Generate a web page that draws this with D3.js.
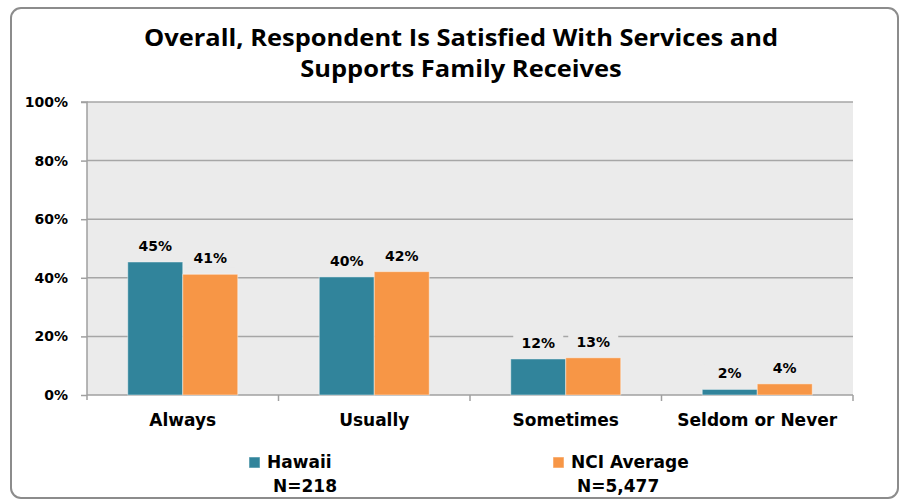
<!DOCTYPE html>
<html><head><meta charset="utf-8">
<script src="https://cdn.jsdelivr.net/npm/d3@7/dist/d3.min.js"></script>
<style>
html,body{margin:0;padding:0;background:#fff;}
svg{display:block;}
text{font-family:"DejaVu Sans",Verdana,sans-serif;font-weight:bold;fill:#000;}
</style></head>
<body>
<svg id="chart" width="900" height="501"></svg>
<script>
const titleLines = ["Overall, Respondent Is Satisfied With Services and", "Supports Family Receives"];
const categories = ["Always", "Usually", "Sometimes", "Seldom or Never"];
const seriesNames = ["Hawaii", "NCI Average"];
const seriesN = ["N=218", "N=5,477"];
const hawaii = [45.4, 40.3, 12.3, 1.9];
const nciAverage = [41.2, 42.1, 12.7, 3.8];
const yTicks = [0, 20, 40, 60, 80, 100];
const colors = ["#31849B", "#F79646"];

const svg = d3.select("#chart");
const W = 900, H = 501;

// outer frame
svg.append("rect").attr("x", 11).attr("y", 8).attr("width", 887).attr("height", 490)
  .attr("rx", 10).attr("fill", "#fff").attr("stroke", "#8c8c8c").attr("stroke-width", 2);

const plot = {left: 87, right: 853, top: 102, bottom: 395};
const x0 = d3.scaleBand().domain(categories).range([plot.left, plot.right])
  .paddingInner(0.4256).paddingOuter(0.2128);
const x1 = d3.scaleBand().domain(seriesNames).range([0, x0.bandwidth()]);
const y = d3.scaleLinear().domain([0, 100]).range([plot.bottom, plot.top]);

// plot background
svg.append("rect").attr("x", plot.left).attr("y", plot.top)
  .attr("width", plot.right - plot.left).attr("height", plot.bottom - plot.top)
  .attr("fill", "#ebebeb");

// gridlines
svg.append("g").selectAll("line").data(yTicks.filter(d => d > 0)).join("line")
  .attr("x1", plot.left).attr("x2", plot.right)
  .attr("y1", d => y(d)).attr("y2", d => y(d))
  .attr("stroke", "#a6a6a6").attr("stroke-width", 1.5);

// y axis
const yAxis = d3.axisLeft(y).tickValues(yTicks).tickFormat(d => d + "%").tickSize(6).tickPadding(13);
const gy = svg.append("g").attr("transform", `translate(${plot.left},0)`).call(yAxis);
gy.select(".domain").attr("d", `M-6,${plot.top}H0V${plot.bottom + 5}`).attr("stroke", "#a0a0a0").attr("stroke-width", 1.5);
gy.selectAll(".tick line").attr("stroke", "#a0a0a0").attr("stroke-width", 1.5);
gy.selectAll(".tick text").style("font-size", "14px").style("font-family", "DejaVu Sans").style("font-weight", "bold").attr("fill", "#000");

// x axis baseline + category ticks
const gx = svg.append("g");
gx.append("line").attr("x1", plot.left).attr("x2", plot.right).attr("y1", plot.bottom).attr("y2", plot.bottom)
  .attr("stroke", "#a0a0a0").attr("stroke-width", 1.5);
const boundaries = categories.map(c => x0(c) - x0.step() * x0.paddingInner() / 2).slice(1).concat([plot.right]);
gx.selectAll("line.tk").data(boundaries).join("line").attr("class", "tk")
  .attr("x1", d => d).attr("x2", d => d).attr("y1", plot.bottom).attr("y2", plot.bottom + 6)
  .attr("stroke", "#a0a0a0").attr("stroke-width", 1.5);
gx.selectAll("text").data(categories).join("text")
  .attr("x", d => x0(d) + x0.bandwidth() / 2).attr("y", 426)
  .attr("text-anchor", "middle").style("font-size", "17px").text(d => d);

// bars
const rows = categories.map((c, i) => ({cat: c, vals: [hawaii[i], nciAverage[i]]}));
const groups = svg.append("g").selectAll("g").data(rows).join("g")
  .attr("transform", d => `translate(${x0(d.cat)},0)`);
groups.selectAll("rect").data(d => d.vals.map((v, j) => ({s: seriesNames[j], v, j}))).join("rect")
  .attr("x", d => x1(d.s)).attr("width", x1.bandwidth())
  .attr("y", d => y(d.v)).attr("height", d => y(0) - y(d.v))
  .attr("fill", d => colors[d.j]).attr("stroke", "#ffffff").attr("stroke-opacity", 0.45).attr("stroke-width", 1);

// data labels with background
const lbl = groups.selectAll("g.lbl").data(d => d.vals.map((v, j) => ({s: seriesNames[j], v, j}))).join("g").attr("class", "lbl");
lbl.append("rect")
  .attr("x", d => x1(d.s) + x1.bandwidth() / 2 - 25).attr("width", 50)
  .attr("y", d => y(d.v) - 11 - 14).attr("height", 18).attr("fill", "#ebebeb");
lbl.append("text")
  .attr("x", d => x1(d.s) + x1.bandwidth() / 2).attr("y", d => y(d.v) - 11)
  .attr("text-anchor", "middle").style("font-size", "14px")
  .text(d => Math.round(d.v) + "%");

// title
const tg = svg.append("g");
const tl = tg.selectAll("text").data(titleLines).join("text")
  .attr("x", 461).attr("y", (d, i) => 46 + i * 31).attr("text-anchor", "middle")
  .style("font-family", "'Open Sans', sans-serif").style("font-size", "23px").style("font-weight", "bold")
  .text(d => d);
const w0 = tl.nodes()[0].getComputedTextLength();
const ratio = 634 / w0;
tl.each(function () {
  const w = this.getComputedTextLength();
  d3.select(this).attr("textLength", w * ratio).attr("lengthAdjust", "spacingAndGlyphs");
});

// legend
const legX = [249, 553];
const leg = svg.append("g").selectAll("g").data(seriesNames).join("g")
  .attr("transform", (d, i) => `translate(${legX[i]},0)`);
leg.append("rect").attr("x", 0).attr("y", 457).attr("width", 11).attr("height", 11)
  .attr("fill", (d, i) => colors[i]).attr("stroke", "#fff").attr("stroke-opacity", 0.5);
leg.append("text").attr("x", 18).attr("y", 468).style("font-size", "17px").text(d => d);
leg.append("text").attr("x", 24).attr("y", 492).style("font-size", "17px").text((d, i) => seriesN[i]);
</script>
</body></html>
